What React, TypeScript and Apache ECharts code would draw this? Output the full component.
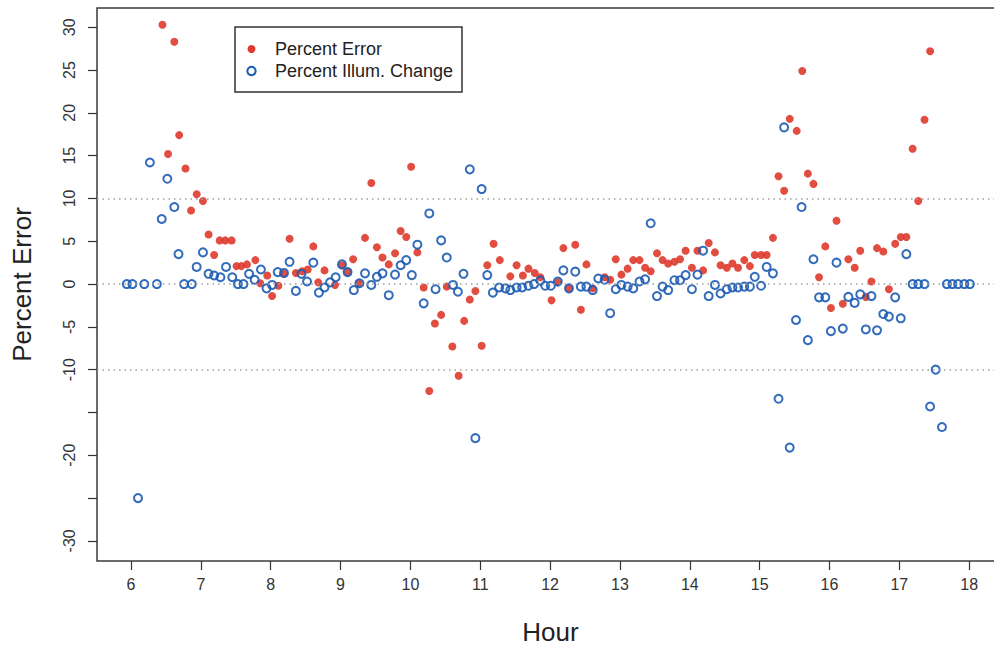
import React, { useEffect, useRef } from "react";
import * as echarts from "echarts";

const redHours = [6.45, 6.53, 6.62, 6.69, 6.78, 6.86, 6.94, 7.03, 7.11, 7.19, 7.27, 7.35, 7.44, 7.51, 7.58, 7.66, 7.78, 7.85, 7.95, 8.02, 8.11, 8.19, 8.27, 8.36, 8.45, 8.53, 8.61, 8.68, 8.77, 8.92, 9.02, 9.1, 9.18, 9.26, 9.35, 9.44, 9.52, 9.6, 9.69, 9.78, 9.86, 9.94, 10.01, 10.1, 10.19, 10.27, 10.35, 10.44, 10.52, 10.6, 10.69, 10.77, 10.85, 10.93, 11.02, 11.1, 11.19, 11.28, 11.43, 11.52, 11.61, 11.69, 11.78, 11.86, 12.02, 12.11, 12.19, 12.27, 12.36, 12.44, 12.52, 12.61, 12.78, 12.86, 12.94, 13.02, 13.11, 13.19, 13.28, 13.36, 13.44, 13.53, 13.61, 13.69, 13.78, 13.86, 13.94, 14.03, 14.11, 14.19, 14.27, 14.36, 14.44, 14.53, 14.61, 14.69, 14.78, 14.86, 14.93, 15.02, 15.1, 15.19, 15.27, 15.35, 15.43, 15.53, 15.61, 15.69, 15.77, 15.85, 15.94, 16.02, 16.1, 16.19, 16.27, 16.36, 16.44, 16.52, 16.6, 16.68, 16.77, 16.85, 16.94, 17.02, 17.1, 17.19, 17.27, 17.36, 17.44];
const redValues = [30.3, 15.2, 28.3, 17.4, 13.5, 8.6, 10.5, 9.7, 5.8, 3.4, 5.1, 5.1, 5.1, 2.1, 2.1, 2.3, 2.8, 0.1, 1.0, -1.4, -0.2, 1.2, 5.3, 1.3, 1.5, 1.7, 4.4, 0.2, 1.6, -0.1, 2.2, 1.4, 2.9, 0.1, 5.4, 11.8, 4.3, 3.1, 2.3, 3.6, 6.2, 5.5, 13.7, 3.7, -0.4, -12.5, -4.6, -3.6, -0.3, -7.3, -10.7, -4.3, -1.8, -0.8, -7.2, 2.2, 4.7, 2.8, 0.9, 2.2, 1.0, 1.8, 1.3, 0.8, -1.9, 0.2, 4.2, -0.5, 4.6, -3.0, 2.3, -0.5, 0.8, 0.5, 2.9, 1.1, 1.8, 2.8, 2.8, 1.9, 1.5, 3.6, 2.8, 2.4, 2.6, 2.9, 3.9, 1.9, 3.9, 1.6, 4.8, 3.7, 2.2, 1.9, 2.4, 1.9, 2.8, 2.1, 3.4, 3.4, 3.4, 5.4, 12.6, 10.9, 19.3, 17.9, 24.9, 12.9, 11.7, 0.8, 4.4, -2.8, 7.4, -2.3, 2.9, 1.9, 3.9, -1.5, 0.3, 4.2, 3.8, -0.6, 4.7, 5.5, 5.5, 15.8, 9.7, 19.2, 27.2];

const blueHours = [5.94, 6.02, 6.1, 6.19, 6.27, 6.37, 6.44, 6.52, 6.62, 6.68, 6.76, 6.87, 6.94, 7.03, 7.11, 7.19, 7.28, 7.36, 7.45, 7.53, 7.61, 7.69, 7.77, 7.86, 7.94, 8.02, 8.1, 8.19, 8.27, 8.36, 8.44, 8.52, 8.61, 8.69, 8.77, 8.85, 8.93, 9.02, 9.1, 9.19, 9.27, 9.35, 9.44, 9.52, 9.6, 9.69, 9.78, 9.86, 9.94, 10.02, 10.1, 10.19, 10.27, 10.36, 10.44, 10.52, 10.61, 10.68, 10.76, 10.85, 10.93, 11.02, 11.1, 11.18, 11.27, 11.36, 11.43, 11.52, 11.6, 11.69, 11.77, 11.86, 11.93, 12.01, 12.11, 12.19, 12.27, 12.36, 12.44, 12.52, 12.61, 12.69, 12.78, 12.86, 12.94, 13.02, 13.11, 13.19, 13.28, 13.36, 13.44, 13.53, 13.61, 13.69, 13.78, 13.86, 13.94, 14.03, 14.11, 14.19, 14.27, 14.36, 14.44, 14.53, 14.61, 14.69, 14.78, 14.86, 14.93, 15.02, 15.1, 15.19, 15.27, 15.35, 15.43, 15.52, 15.6, 15.69, 15.77, 15.85, 15.94, 16.02, 16.1, 16.19, 16.27, 16.36, 16.44, 16.52, 16.6, 16.68, 16.77, 16.85, 16.94, 17.02, 17.1, 17.19, 17.27, 17.36, 17.44, 17.52, 17.61, 17.68, 17.76, 17.84, 17.93, 18.01];
const blueValues = [0, 0, -25, 0, 14.2, 0, 7.6, 12.3, 9.0, 3.5, 0, 0, 2.0, 3.7, 1.2, 1.0, 0.8, 2.0, 0.8, 0, 0, 1.2, 0.5, 1.7, -0.5, -0.1, 1.4, 1.3, 2.6, -0.8, 1.2, 0.3, 2.5, -1.0, -0.4, 0.2, 0.8, 2.3, 1.4, -0.7, 0.1, 1.25, -0.1, 0.85, 1.25, -1.3, 1.1, 2.2, 2.8, 1.05, 4.6, -2.25, 8.25, -0.6, 5.1, 3.1, -0.1, -0.9, 1.2, 13.4, -18.0, 11.1, 1.05, -1.0, -0.4, -0.5, -0.7, -0.4, -0.4, -0.2, 0, 0.4, -0.2, -0.2, 0.3, 1.6, -0.5, 1.45, -0.3, -0.3, -0.7, 0.65, 0.5, -3.4, -0.6, -0.1, -0.3, -0.5, 0.3, 0.55, 7.1, -1.4, -0.3, -0.7, 0.45, 0.45, 1.05, -0.6, 1.1, 3.9, -1.4, -0.1, -1.1, -0.6, -0.4, -0.4, -0.3, -0.3, 0.85, -0.2, 2.0, 1.25, -13.4, 18.3, -19.1, -4.2, 9.0, -6.55, 2.9, -1.55, -1.55, -5.5, 2.5, -5.2, -1.5, -2.2, -1.2, -5.3, -1.4, -5.4, -3.5, -3.8, -1.55, -4.0, 3.5, 0, 0, 0, -14.3, -10.0, -16.7, 0, 0, 0, 0, 0];

const xTicks = [6, 7, 8, 9, 10, 11, 12, 13, 14, 15, 16, 17, 18];
const yTicks = [-30, -25, -20, -15, -10, -5, 0, 5, 10, 15, 20, 25, 30];
const yLabels = [-30, -20, -10, -5, 0, 5, 10, 15, 20, 25, 30];
const refLines = [10, 0, -10];

const seriesNames = ["Percent Error", "Percent Illum. Change"];
const RED = "#df3a2e";
const BLUE = "#1d5cb4";
const FONT = "Liberation Sans";

export default function App() {
  const ref = useRef<HTMLDivElement>(null);
  useEffect(() => {
    document.body.style.margin = "0";
    const chart = echarts.init(ref.current!, null, { renderer: "svg" });
    const redData = redHours.map((h, i) => [h, redValues[i]]);
    const blueData = blueHours.map((h, i) => [h, blueValues[i]]);
    chart.setOption({
      animation: false,
      backgroundColor: "#ffffff",
      grid: {
        left: 97,
        top: 8,
        bottom: 88,
        right: -10,
        outerBoundsMode: "none",
        containLabel: false,
        show: true,
        borderColor: "#3a3a3a",
        borderWidth: 1.5,
        backgroundColor: "transparent",
      },
      xAxis: {
        type: "value",
        min: 5.513,
        max: 18.498,
        name: "Hour",
        nameLocation: "middle",
        nameGap: 58,
        nameTextStyle: { fontFamily: FONT, fontSize: 26, color: "#222" },
        axisLine: { show: false, onZero: false },
        splitLine: { show: false },
        axisTick: {
          show: true,
          customValues: xTicks,
          length: 9,
          lineStyle: { color: "#333", width: 1.2 },
        },
        axisLabel: {
          customValues: xTicks,
          margin: 15,
          fontFamily: FONT,
          fontSize: 16,
          color: "#333",
        },
      },
      yAxis: {
        type: "value",
        min: -32.35,
        max: 32.25,
        name: "Percent Error",
        nameLocation: "middle",
        nameRotate: 90,
        nameGap: 62,
        nameTextStyle: { fontFamily: FONT, fontSize: 26, color: "#222" },
        axisLine: { show: false, onZero: false },
        splitLine: { show: false },
        axisTick: {
          show: true,
          customValues: yTicks,
          length: 9,
          lineStyle: { color: "#333", width: 1.2 },
        },
        axisLabel: {
          customValues: yLabels,
          rotate: 90,
          margin: 20,
          fontFamily: FONT,
          fontSize: 16,
          color: "#333",
        },
      },
      graphic: [
        {
          type: "rect",
          shape: { x: 235, y: 27, width: 227, height: 65 },
          style: { fill: "#fff", stroke: "#333", lineWidth: 1.5 },
          z: 10,
        },
        {
          type: "circle",
          shape: { cx: 251.5, cy: 49, r: 4 },
          style: { fill: RED },
          z: 11,
        },
        {
          type: "circle",
          shape: { cx: 251.5, cy: 71, r: 4.2 },
          style: { fill: "none", stroke: BLUE, lineWidth: 2 },
          z: 11,
        },
        {
          type: "text",
          x: 275,
          y: 49,
          style: {
            text: seriesNames[0],
            fontFamily: FONT,
            fontSize: 18,
            fill: "#222",
            verticalAlign: "middle",
          },
          z: 11,
        },
        {
          type: "text",
          x: 275,
          y: 71,
          style: {
            text: seriesNames[1],
            fontFamily: FONT,
            fontSize: 18,
            fill: "#222",
            verticalAlign: "middle",
          },
          z: 11,
        },
      ],
      series: [
        {
          type: "scatter",
          name: "refs",
          data: [],
          silent: true,
          z: 1,
          markLine: {
            silent: true,
            symbol: "none",
            label: { show: false },
            lineStyle: { color: "#a0a0a0", type: [1.5, 4], width: 1.5 },
            data: refLines.map((v) => ({ yAxis: v })),
          },
        },
        {
          type: "scatter",
          name: seriesNames[0],
          data: redData,
          symbol: "circle",
          symbolSize: 8,
          itemStyle: { color: RED, opacity: 0.9 },
          z: 3,
        },
        {
          type: "scatter",
          name: seriesNames[1],
          data: blueData,
          symbol: "circle",
          symbolSize: 8,
          itemStyle: {
            color: "transparent",
            borderColor: BLUE,
            borderWidth: 2,
            opacity: 0.9,
          },
          z: 4,
        },
      ],
    });
    return () => chart.dispose();
  }, []);
  return <div ref={ref} style={{ width: 994, height: 649 }} />;
}
